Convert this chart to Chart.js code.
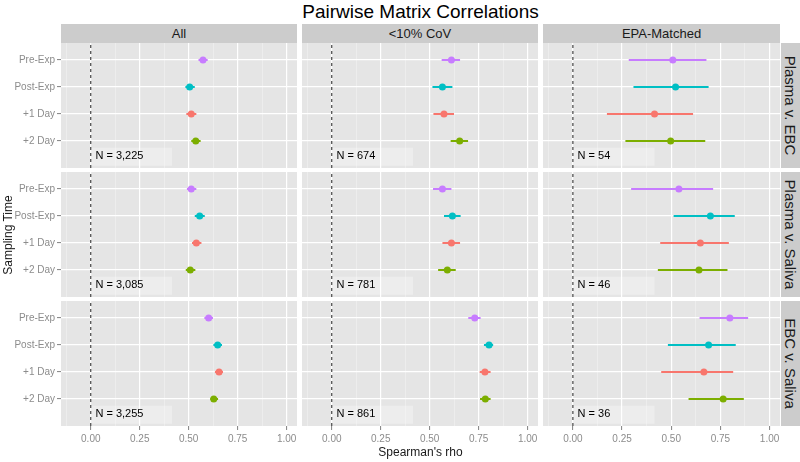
<!DOCTYPE html>
<html>
<head>
<meta charset="utf-8">
<script src="https://cdn.jsdelivr.net/npm/chart.js@4.4.0/dist/chart.umd.min.js"></script>
<style>
body { margin: 0; background: #fff; font-family: "Liberation Sans", Arial, sans-serif; }
#wrap { position: relative; width: 800px; height: 462px; overflow: hidden; }
#wrap canvas { position: absolute; }
.lab { position: absolute; color: #1a1a1a; white-space: nowrap; }
.strip { position: absolute; background: #cccccc; color: #1a1a1a; display: flex; align-items: center; justify-content: center; white-space: nowrap; }
</style>
</head>
<body>
<div id="wrap"></div>
<script>
// categories
const times = ['Pre-Exp', 'Post-Exp', '+1 Day', '+2 Day'];
const subsets = ['All', '<10% CoV', 'EPA-Matched'];
const pairs = ['Plasma v. EBC', 'Plasma v. Saliva', 'EBC v. Saliva'];
const xTickLabels = [0, 0.25, 0.5, 0.75, 1];
const timeColors = ['#C77CFF', '#00BFC4', '#F8766D', '#7CAE00'];

// N per pair (rows) x subset (cols)
const nPlasmaEBC = [3225, 674, 54];
const nPlasmaSaliva = [3085, 781, 46];
const nEBCSaliva = [3255, 861, 36];

// rho estimates, one row per subset, in order of times
const rhoPlasmaEBC = [[0.573, 0.505, 0.513, 0.536], [0.611, 0.565, 0.573, 0.653], [0.508, 0.522, 0.415, 0.497]];
const loPlasmaEBC  = [[0.550, 0.483, 0.488, 0.513], [0.561, 0.514, 0.519, 0.607], [0.284, 0.308, 0.173, 0.267]];
const hiPlasmaEBC  = [[0.597, 0.531, 0.539, 0.561], [0.655, 0.616, 0.624, 0.696], [0.679, 0.690, 0.611, 0.673]];

const rhoPlasmaSaliva = [[0.513, 0.556, 0.539, 0.508], [0.565, 0.616, 0.611, 0.590], [0.539, 0.699, 0.648, 0.641]];
const loPlasmaSaliva  = [[0.491, 0.531, 0.517, 0.485], [0.517, 0.573, 0.565, 0.543], [0.296, 0.512, 0.444, 0.432]];
const hiPlasmaSaliva  = [[0.539, 0.582, 0.565, 0.534], [0.611, 0.658, 0.655, 0.633], [0.713, 0.823, 0.793, 0.786]];

const rhoEBCSaliva = [[0.602, 0.648, 0.655, 0.628], [0.730, 0.803, 0.782, 0.784], [0.798, 0.690, 0.666, 0.764]];
const loEBCSaliva  = [[0.580, 0.626, 0.634, 0.610], [0.697, 0.777, 0.755, 0.757], [0.644, 0.483, 0.449, 0.588]];
const hiEBCSaliva  = [[0.624, 0.670, 0.675, 0.650], [0.760, 0.824, 0.811, 0.811], [0.891, 0.828, 0.815, 0.869]];

const nAll = [nPlasmaEBC, nPlasmaSaliva, nEBCSaliva];
const rhoAll = [rhoPlasmaEBC, rhoPlasmaSaliva, rhoEBCSaliva];
const loAll = [loPlasmaEBC, loPlasmaSaliva, loEBCSaliva];
const hiAll = [hiPlasmaEBC, hiPlasmaSaliva, hiEBCSaliva];

// layout
const colX = [61, 302, 543];
const colW = [236, 236, 237];
const rowY = [43, 172, 301];
const rowH = 125;
const yLeftW = 61, xAxisH = 24;
const xMin = -0.152, xMax = 1.053, yMin = 0, yMax = 4.63;
const gridX = [-0.125, 0, 0.125, 0.25, 0.375, 0.5, 0.625, 0.75, 0.875, 1];
const isMajor = v => Math.abs(v * 4 - Math.round(v * 4)) < 1e-9;

const wrap = document.getElementById('wrap');
function addLabel(text, css, cls) {
  const d = document.createElement('div');
  d.className = cls || 'lab';
  d.textContent = text;
  Object.assign(d.style, css);
  wrap.appendChild(d);
  return d;
}

const panelBg = {
  id: 'panelBg',
  beforeDraw(chart) {
    const a = chart.chartArea, ctx = chart.ctx;
    ctx.save();
    ctx.fillStyle = '#E5E5E5';
    ctx.fillRect(a.left, a.top, a.right - a.left, a.bottom - a.top);
    ctx.restore();
  }
};

const nLabel = {
  id: 'nLabel',
  beforeDatasetsDraw(chart, args, opts) {
    const xs = chart.scales.x, ys = chart.scales.y, ctx = chart.ctx;
    ctx.save();
    ctx.fillStyle = 'rgba(255,255,255,0.3)';
    const x0 = xs.getPixelForValue(0), x1 = xs.getPixelForValue(0.415);
    const y0 = ys.getPixelForValue(0.75), y1 = ys.getPixelForValue(0.08);
    ctx.fillRect(x0, y0, x1 - x0, y1 - y0);
    ctx.restore();
  },
  afterDatasetsDraw(chart, args, opts) {
    const xs = chart.scales.x, ys = chart.scales.y, ctx = chart.ctx;
    ctx.save();
    ctx.fillStyle = '#000';
    ctx.font = '11px "Liberation Sans", Arial, sans-serif';
    ctx.textBaseline = 'middle';
    ctx.fillText(opts.text, xs.getPixelForValue(0.024), ys.getPixelForValue(0.44));
    ctx.restore();
  }
};

function makePanel(r, c) {
  const left = colX[c] - (c === 0 ? yLeftW : 0);
  const w = colW[c] + (c === 0 ? yLeftW : 0);
  const h = rowH + (r === 2 ? xAxisH : 0);
  const cv = document.createElement('canvas');
  cv.width = w; cv.height = h;
  cv.style.left = left + 'px';
  cv.style.top = rowY[r] + 'px';
  wrap.appendChild(cv);

  const datasets = [{
    type: 'line',
    data: [{x: 0, y: yMin}, {x: 0, y: yMax}],
    borderColor: '#222', borderWidth: 1, borderDash: [3, 3],
    pointRadius: 0, order: 3
  }];
  times.forEach((t, i) => {
    const y = 4 - i;
    datasets.push({
      type: 'line',
      data: [{x: loAll[r][c][i], y}, {x: hiAll[r][c][i], y}],
      borderColor: timeColors[i], borderWidth: 2, pointRadius: 0, order: 2
    });
    datasets.push({
      type: 'scatter',
      data: [{x: rhoAll[r][c][i], y}],
      backgroundColor: timeColors[i], borderColor: timeColors[i],
      pointRadius: 3.5, borderWidth: 0, order: 1
    });
  });

  new Chart(cv, {
    type: 'scatter',
    data: { datasets },
    plugins: [panelBg, nLabel],
    options: {
      responsive: false,
      animation: false,
      events: [],
      layout: { padding: 0, autoPadding: false },
      plugins: {
        legend: { display: false },
        tooltip: { enabled: false },
        nLabel: { text: 'N = ' + nAll[r][c].toLocaleString('en-US') }
      },
      scales: {
        x: {
          type: 'linear', min: xMin, max: xMax,
          afterBuildTicks: s => { s.ticks = gridX.map(v => ({value: v})); },
          afterFit: s => {
            s.height = r === 2 ? xAxisH : 0;
            s.paddingLeft = 0; s.paddingRight = 0;
          },
          border: { display: false },
          grid: {
            color: ctx => isMajor(ctx.tick.value) ? '#ffffff' : '#F2F2F2',
            lineWidth: ctx => isMajor(ctx.tick.value) ? 1.2 : 0.6,
            drawTicks: r === 2, tickLength: 4, tickWidth: 1,
            tickColor: ctx => isMajor(ctx.tick.value) ? '#808080' : 'rgba(0,0,0,0)'
          },
          ticks: {
            display: r === 2, autoSkip: false, maxRotation: 0, padding: 3,
            color: '#8c8c8c', font: { size: 10, family: '"Liberation Sans", Arial, sans-serif' },
            callback: v => xTickLabels.some(t => Math.abs(t - v) < 1e-9) ? v.toFixed(2) : ''
          }
        },
        y: {
          type: 'linear', min: yMin, max: yMax,
          afterBuildTicks: s => { s.ticks = [1, 2, 3, 4].map(v => ({value: v})); },
          afterFit: s => {
            s.width = c === 0 ? yLeftW : 0;
            s.paddingTop = 0; s.paddingBottom = 0;
          },
          border: { display: false },
          grid: { color: '#ffffff', lineWidth: 1.2, drawTicks: c === 0, tickLength: 4, tickWidth: 1, tickColor: '#808080' },
          ticks: {
            display: c === 0, padding: 2,
            color: '#8c8c8c', font: { size: 10, family: '"Liberation Sans", Arial, sans-serif' },
            callback: v => times[4 - v]
          }
        }
      }
    }
  });
}

for (let r = 0; r < 3; r++) for (let c = 0; c < 3; c++) makePanel(r, c);

// strips
subsets.forEach((s, c) => {
  addLabel(s, { left: colX[c] + 'px', top: '24px', width: colW[c] + 'px', height: '19px', fontSize: '13px' }, 'strip');
});
pairs.forEach((p, r) => {
  const d = addLabel('', { left: '781px', top: rowY[r] + 'px', width: '19px', height: rowH + 'px', fontSize: '15px' }, 'strip');
  const sp = document.createElement('span');
  sp.textContent = p;
  sp.style.transform = 'rotate(90deg)';
  sp.style.display = 'inline-block';
  d.appendChild(sp);
});

// titles
addLabel('Pairwise Matrix Correlations', { left: '61px', width: '719px', top: '1px', textAlign: 'center', fontSize: '19px', lineHeight: '22px', color: '#000' });
addLabel("Spearman's rho", { left: '61px', width: '719px', top: '444px', textAlign: 'center', fontSize: '12px', lineHeight: '16px' });
addLabel('Sampling Time', { left: '-42px', width: '100px', top: '227px', textAlign: 'center', fontSize: '12px', lineHeight: '16px', transform: 'rotate(-90deg)' });
</script>
</body>
</html>
